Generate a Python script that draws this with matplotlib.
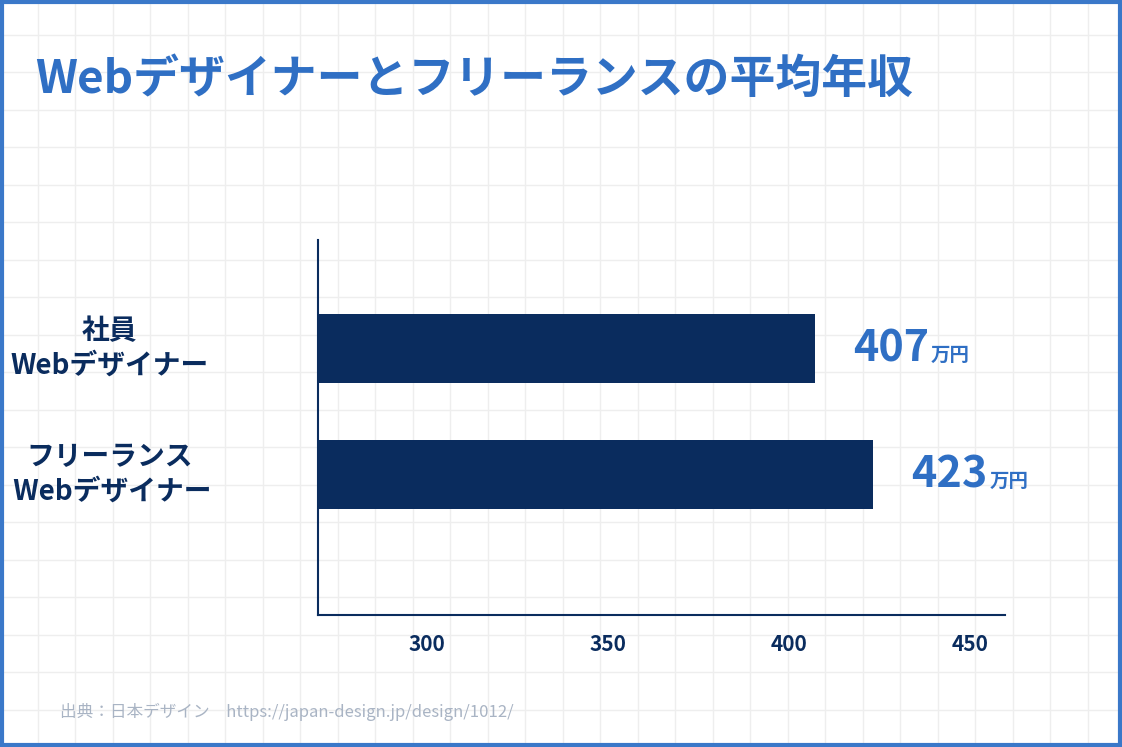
import matplotlib
matplotlib.use("Agg")
import matplotlib.pyplot as plt
from matplotlib.patches import Rectangle
import numpy as np

plt.rcParams['font.family'] = ['Noto Sans CJK JP', 'DejaVu Sans']

categories = ["社員\nWebデザイナー", "フリーランス\n Webデザイナー"]
values = [407, 423]
xticks = [300, 350, 400, 450]
title = "Webデザイナーとフリーランスの平均年収"
source = "出典：日本デザイン　https://japan-design.jp/design/1012/"

navy = "#0a2c5e"
blue = "#2f6fc4"

fig = plt.figure(figsize=(11.22, 7.47), dpi=100)
W, H = 1122, 747
# background grid
for x in np.arange(0, W, 37.5):
    fig.add_artist(plt.Line2D([x / W, x / W], [0, 1], color="#eeeeee", lw=1, zorder=0))
for y in np.arange(0, H, 37.5):
    fig.add_artist(plt.Line2D([0, 1], [y / H, y / H], color="#eeeeee", lw=1, zorder=0))
fig.add_artist(Rectangle((0.002, 0.003), 0.996, 0.994, transform=fig.transFigure,
                         fill=False, ec="#3a78c9", lw=3))

fig.text(35 / W, 1 - 80 / H, title, fontsize=33, fontweight="bold", color=blue, va="center")

ax = fig.add_axes([318 / W, 1 - 615 / H, 687 / W, 375 / H])
ax.patch.set_alpha(0)
ypos = [1, 0]
ax.barh(ypos, values, height=0.548, color=navy, left=0)
ax.set_xlim(270, 459.5)
ax.set_ylim(-1.115, 1.861)
for s in ["top", "right"]:
    ax.spines[s].set_visible(False)
for s in ["left", "bottom"]:
    ax.spines[s].set_color(navy)
    ax.spines[s].set_linewidth(1.5)
ax.set_xticks(xticks)
ax.set_xticklabels([str(t) for t in xticks], fontsize=15, fontweight="bold", color=navy)
ax.tick_params(axis="x", length=0, pad=14)
ax.set_yticks([])
for y, cat in zip(ypos, categories):
    ax.text(-0.06, y, cat, transform=ax.get_yaxis_transform(), ha="center", va="center",
            fontsize=20, fontweight="bold", color=navy, linespacing=1.3,
            x=None) if False else fig.text(165 / W, 0, "")
    ax.annotate(cat, xy=(0, y), xycoords=("axes fraction", "data"), xytext=(-150, 0),
                textcoords="offset points", ha="center", va="center", fontsize=20,
                fontweight="bold", color=navy, linespacing=1.3)
for y, v in zip(ypos, values):
    t = ax.annotate(str(v), xy=(v, y), xytext=(28, 0), textcoords="offset points",
                    ha="left", va="center", fontsize=31, fontweight="bold", color=blue)
    ax.annotate("万円", xy=(1, 0.35), xycoords=t, xytext=(1, 0), textcoords="offset points",
                ha="left", va="center", fontsize=14, fontweight="bold", color=blue)

fig.text(60 / W, 1 - 712 / H, source, fontsize=12, color="#a9b4c4", va="center")
fig.savefig("out.png", dpi=100)
